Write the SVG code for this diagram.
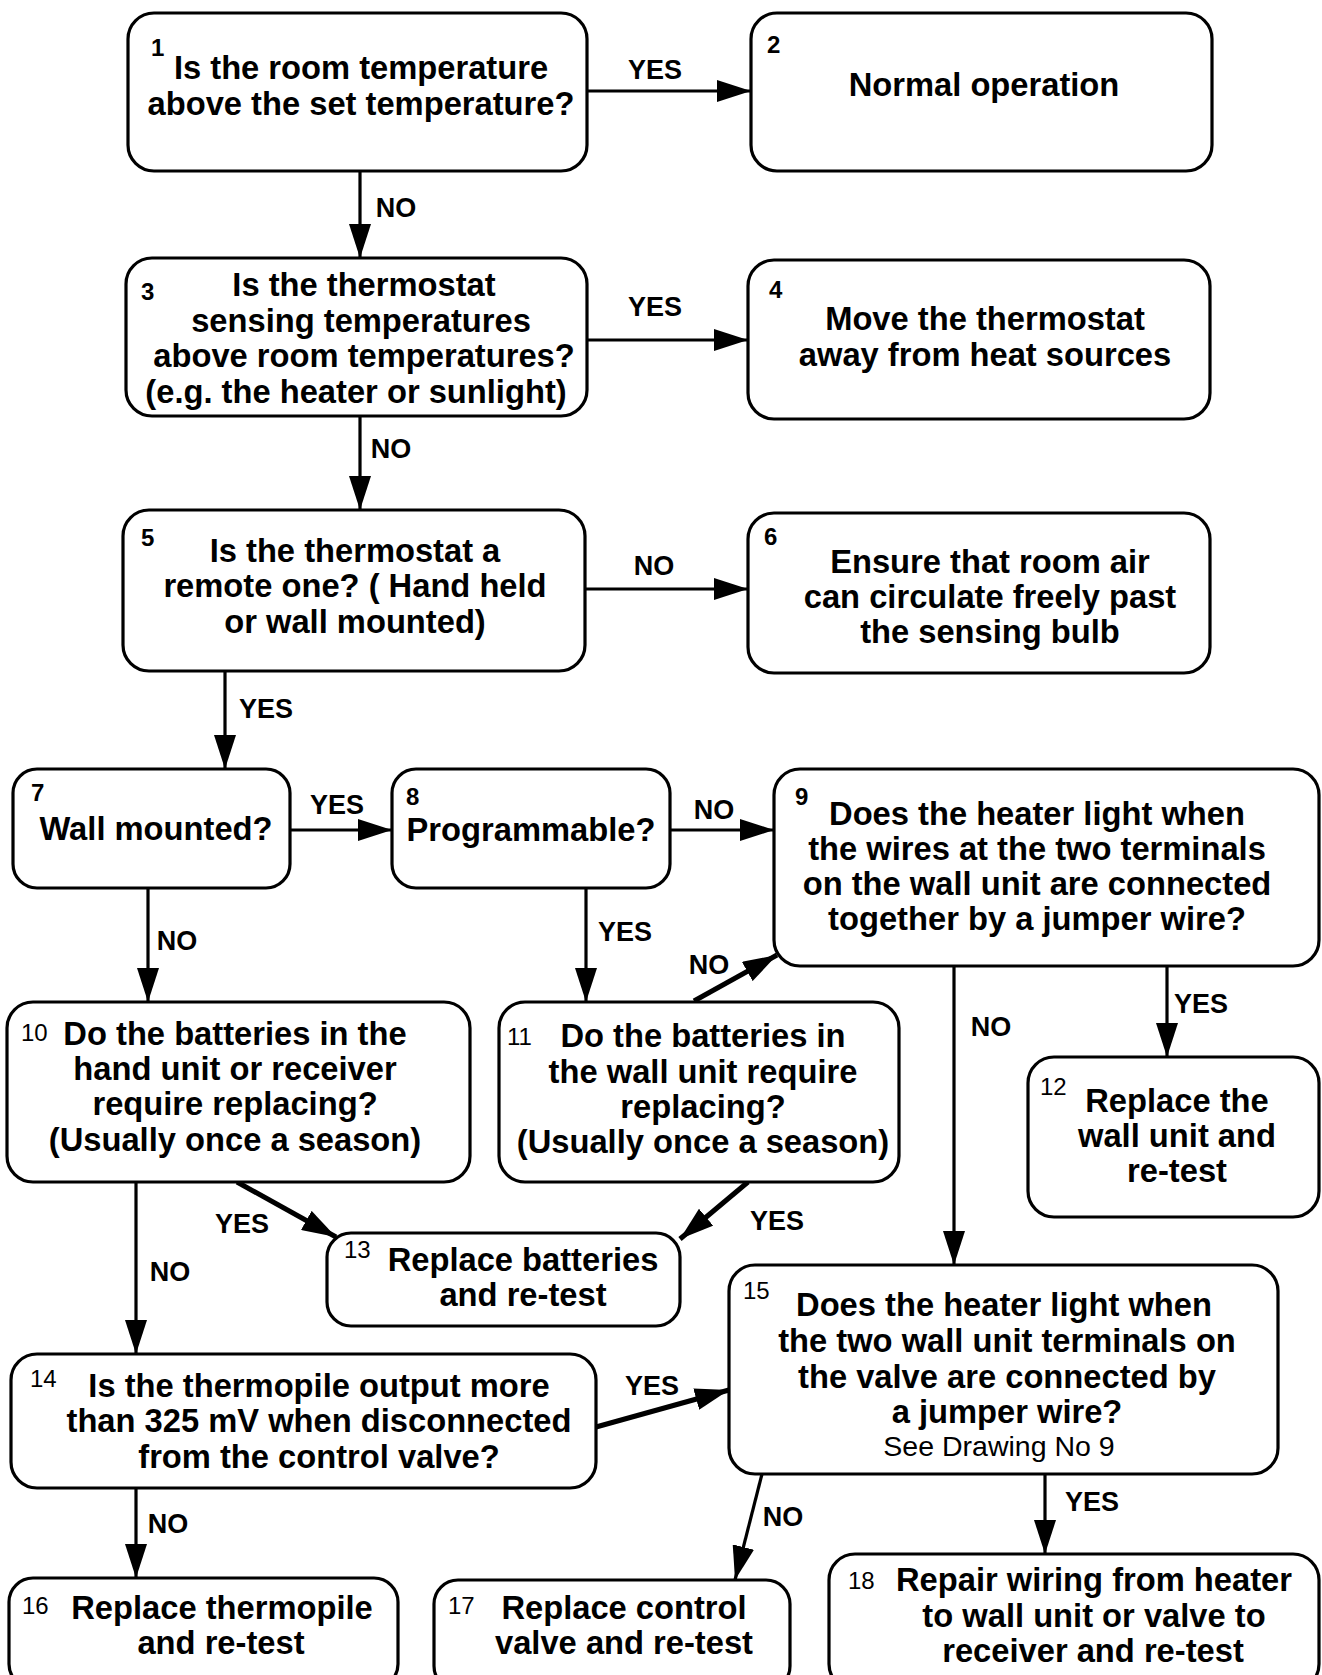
<svg xmlns="http://www.w3.org/2000/svg" width="1322" height="1675" viewBox="0 0 1322 1675">
<defs>
<style>
.box{fill:#fff;stroke:#000;stroke-width:3.2}
.t{font-family:"Liberation Sans",Arial,sans-serif;font-weight:bold;font-size:32.7px;text-anchor:middle;fill:#000}
.n{font-family:"Liberation Sans",Arial,sans-serif;font-size:24px;fill:#000}
.nb{font-weight:bold}
.l{font-family:"Liberation Sans",Arial,sans-serif;font-weight:bold;font-size:27px;text-anchor:middle;fill:#000}
.s{font-family:"Liberation Sans",Arial,sans-serif;font-size:28.5px;text-anchor:middle;fill:#000}
.c{fill:none;stroke:#000;stroke-width:3.2;marker-end:url(#ah)}
.cw{stroke-width:5}
</style>
<marker id="ah" markerUnits="userSpaceOnUse" markerWidth="34" markerHeight="22" viewBox="0 0 34 22" refX="34" refY="11" orient="auto">
<path d="M0,0 L34,11 L0,22 z" fill="#000"/>
</marker>
</defs>
<rect width="1322" height="1675" fill="#fff"/>

<g id="connectors">
<line class="c" x1="587" y1="91" x2="751" y2="91"/>
<line class="c" x1="360" y1="171" x2="360" y2="258"/>
<line class="c" x1="587" y1="340" x2="748" y2="340"/>
<line class="c" x1="360" y1="416" x2="360" y2="510"/>
<line class="c" x1="585" y1="589" x2="748" y2="589"/>
<line class="c" x1="225" y1="671" x2="225" y2="769"/>
<line class="c" x1="290" y1="830" x2="392" y2="830"/>
<line class="c" x1="670" y1="830" x2="774" y2="830"/>
<line class="c" x1="148" y1="888" x2="148" y2="1002"/>
<line class="c" x1="586" y1="888" x2="586" y2="1002"/>
<line class="c cw" x1="694" y1="1001" x2="777" y2="955"/>
<line class="c" x1="954" y1="966" x2="954" y2="1265"/>
<line class="c" x1="1167" y1="966" x2="1167" y2="1057"/>
<line class="c cw" x1="237" y1="1182" x2="336" y2="1237"/>
<line class="c cw" x1="748" y1="1182" x2="680" y2="1239"/>
<line class="c" x1="136" y1="1182" x2="136" y2="1354"/>
<line class="c cw" x1="596" y1="1427" x2="729" y2="1390"/>
<line class="c" x1="136" y1="1488" x2="136" y2="1578"/>
<line class="c" x1="762" y1="1474" x2="735" y2="1580"/>
<line class="c" x1="1045" y1="1474" x2="1045" y2="1554"/>
<text class="l" x="655" y="79">YES</text>
<text class="l" x="396" y="217">NO</text>
<text class="l" x="655" y="316">YES</text>
<text class="l" x="391" y="458">NO</text>
<text class="l" x="654" y="575">NO</text>
<text class="l" x="266" y="718">YES</text>
<text class="l" x="337" y="814">YES</text>
<text class="l" x="714" y="819">NO</text>
<text class="l" x="177" y="950">NO</text>
<text class="l" x="625" y="941">YES</text>
<text class="l" x="709" y="974">NO</text>
<text class="l" x="991" y="1036">NO</text>
<text class="l" x="1201" y="1013">YES</text>
<text class="l" x="242" y="1233">YES</text>
<text class="l" x="777" y="1230">YES</text>
<text class="l" x="170" y="1281">NO</text>
<text class="l" x="652" y="1395">YES</text>
<text class="l" x="168" y="1533">NO</text>
<text class="l" x="783" y="1526">NO</text>
<text class="l" x="1092" y="1511">YES</text>
</g>

<g id="node1">
<rect class="box" x="128" y="13" width="459" height="158" rx="26"/>
<text class="n nb" x="151" y="56">1</text>
<text class="t" x="361" y="79">Is the room temperature</text>
<text class="t" x="361" y="115">above the set temperature?</text>
</g>
<g id="node2">
<rect class="box" x="751" y="13" width="461" height="158" rx="26"/>
<text class="n nb" x="767" y="53">2</text>
<text class="t" x="984" y="96">Normal operation</text>
</g>
<g id="node3">
<rect class="box" x="126" y="258" width="461" height="158" rx="26"/>
<text class="n nb" x="141" y="300">3</text>
<text class="t" x="364" y="296">Is the thermostat</text>
<text class="t" x="361" y="332">sensing temperatures</text>
<text class="t" x="364" y="367">above room temperatures?</text>
<text class="t" x="356" y="403">(e.g. the heater or sunlight)</text>
</g>
<g id="node4">
<rect class="box" x="748" y="260" width="462" height="159" rx="26"/>
<text class="n nb" x="769" y="298">4</text>
<text class="t" x="985" y="330">Move the thermostat</text>
<text class="t" x="985" y="366">away from heat sources</text>
</g>
<g id="node5">
<rect class="box" x="123" y="510" width="462" height="161" rx="26"/>
<text class="n nb" x="141" y="546">5</text>
<text class="t" x="355" y="562">Is the thermostat a</text>
<text class="t" x="355" y="597">remote one? ( Hand held</text>
<text class="t" x="355" y="633">or wall mounted)</text>
</g>
<g id="node6">
<rect class="box" x="748" y="513" width="462" height="160" rx="26"/>
<text class="n nb" x="764" y="545">6</text>
<text class="t" x="990" y="573">Ensure that room air</text>
<text class="t" x="990" y="608">can circulate freely past</text>
<text class="t" x="990" y="643">the sensing bulb</text>
</g>
<g id="node7">
<rect class="box" x="13" y="769" width="277" height="119" rx="24"/>
<text class="n nb" x="31" y="801">7</text>
<text class="t" x="156" y="840">Wall mounted?</text>
</g>
<g id="node8">
<rect class="box" x="392" y="769" width="278" height="119" rx="24"/>
<text class="n nb" x="406" y="805">8</text>
<text class="t" x="531" y="841">Programmable?</text>
</g>
<g id="node9">
<rect class="box" x="774" y="769" width="545" height="197" rx="26"/>
<text class="n nb" x="795" y="805">9</text>
<text class="t" x="1037" y="825">Does the heater light when</text>
<text class="t" x="1037" y="860">the wires at the two terminals</text>
<text class="t" x="1037" y="895">on the wall unit are connected</text>
<text class="t" x="1037" y="930">together by a jumper wire?</text>
</g>
<g id="node10">
<rect class="box" x="7" y="1002" width="463" height="180" rx="26"/>
<text class="n" x="21" y="1041">10</text>
<text class="t" x="235" y="1045">Do the batteries in the</text>
<text class="t" x="235" y="1080">hand unit or receiver</text>
<text class="t" x="235" y="1115">require replacing?</text>
<text class="t" x="235" y="1151">(Usually once a season)</text>
</g>
<g id="node11">
<rect class="box" x="499" y="1002" width="400" height="180" rx="26"/>
<text class="n" x="507" y="1045">11</text>
<text class="t" x="703" y="1047">Do the batteries in</text>
<text class="t" x="703" y="1083">the wall unit require</text>
<text class="t" x="703" y="1118">replacing?</text>
<text class="t" x="703" y="1153">(Usually once a season)</text>
</g>
<g id="node12">
<rect class="box" x="1028" y="1057" width="291" height="160" rx="26"/>
<text class="n" x="1040" y="1095">12</text>
<text class="t" x="1177" y="1112">Replace the</text>
<text class="t" x="1177" y="1147">wall unit and</text>
<text class="t" x="1177" y="1182">re-test</text>
</g>
<g id="node13">
<rect class="box" x="327" y="1233" width="353" height="93" rx="24"/>
<text class="n" x="344" y="1258">13</text>
<text class="t" x="523" y="1271">Replace batteries</text>
<text class="t" x="523" y="1306">and re-test</text>
</g>
<g id="node14">
<rect class="box" x="11" y="1354" width="585" height="134" rx="26"/>
<text class="n" x="30" y="1387">14</text>
<text class="t" x="319" y="1397">Is the thermopile output more</text>
<text class="t" x="319" y="1432">than 325 mV when disconnected</text>
<text class="t" x="319" y="1468">from the control valve?</text>
</g>
<g id="node15">
<rect class="box" x="729" y="1265" width="549" height="209" rx="26"/>
<text class="n" x="743" y="1299">15</text>
<text class="t" x="1004" y="1316">Does the heater light when</text>
<text class="t" x="1007" y="1352">the two wall unit terminals on</text>
<text class="t" x="1007" y="1388">the valve are connected by</text>
<text class="t" x="1007" y="1423">a jumper wire?</text>
<text class="s" x="999" y="1456">See Drawing No 9</text>
</g>
<g id="node16">
<rect class="box" x="9" y="1578" width="389" height="110" rx="24"/>
<text class="n" x="22" y="1614">16</text>
<text class="t" x="222" y="1619">Replace thermopile</text>
<text class="t" x="221" y="1654">and re-test</text>
</g>
<g id="node17">
<rect class="box" x="434" y="1580" width="356" height="110" rx="24"/>
<text class="n" x="448" y="1614">17</text>
<text class="t" x="624" y="1619">Replace control</text>
<text class="t" x="624" y="1654">valve and re-test</text>
</g>
<g id="node18">
<rect class="box" x="829" y="1554" width="490" height="136" rx="26"/>
<text class="n" x="848" y="1589">18</text>
<text class="t" x="1094" y="1591">Repair wiring from heater</text>
<text class="t" x="1094" y="1627">to wall unit or valve to</text>
<text class="t" x="1093" y="1662">receiver and re-test</text>
</g>
</svg>
